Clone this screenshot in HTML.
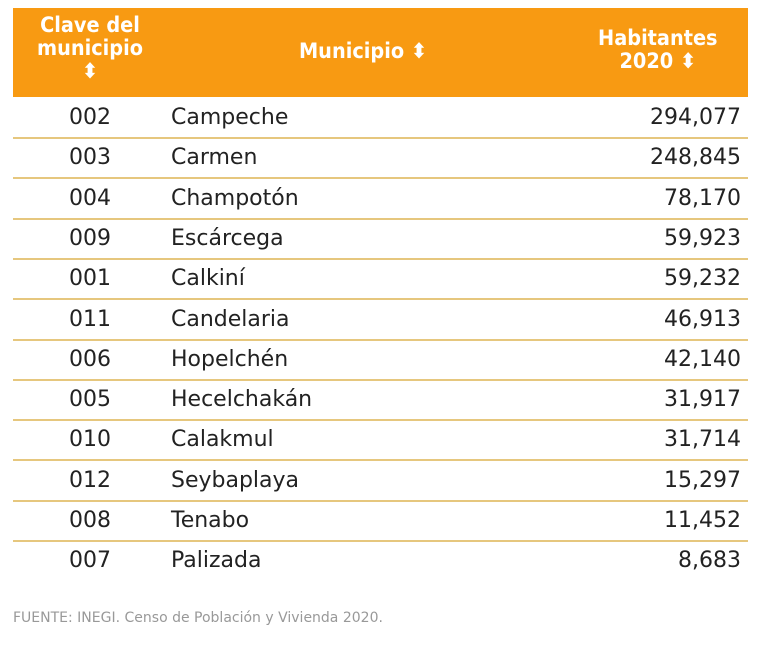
<!DOCTYPE html>
<html><head><meta charset="utf-8"><style>
body{margin:0;width:768px;height:647px;background:#fff;position:relative;overflow:hidden;font-family:"DejaVu Sans",Verdana,sans-serif;}
#hdr{position:absolute;left:13px;top:8px;width:735px;height:89px;background:#F89A12;}
.h{position:absolute;color:#fff;font-family:"DejaVu Sans",sans-serif;font-weight:bold;font-size:21px;line-height:23px;transform:scaleX(0.92);}
.row{position:absolute;left:13px;width:735px;height:40px;border-bottom:2px solid #E6C77E;color:#222;font-size:22px;}
.row span{position:absolute;top:8px;}
.c{left:52px;width:50px;text-align:center;}
.n{left:158px;}
.v{right:7px;}
#foot{position:absolute;left:13px;top:610px;font-size:14px;color:#999;}
</style></head><body>
<div id="hdr">
 <div class="h" style="left:8px;top:6px;width:150px;text-align:center;transform-origin:left">Clave del<br>municipio<br>⬍</div>
 <div class="h" style="left:250px;top:32px;width:200px;text-align:center">Municipio ⬍</div>
 <div class="h" style="right:12px;top:19px;width:170px;text-align:center;transform-origin:right">Habitantes<br>2020 ⬍</div>
</div>
<div id="rows"></div>
<div id="foot">FUENTE: INEGI. Censo de Población y Vivienda 2020.</div>
<script>
const codes=["002","003","004","009","001","011","006","005","010","012","008","007"];
const names=["Campeche","Carmen","Champotón","Escárcega","Calkiní","Candelaria","Hopelchén","Hecelchakán","Calakmul","Seybaplaya","Tenabo","Palizada"];
const values=[294077,248845,78170,59923,59232,46913,42140,31917,31714,15297,11452,8683];
const wrap=document.getElementById('rows');
codes.forEach((c,i)=>{
 const r=document.createElement('div');
 r.className='row';
 
 
 r.style.top=(97+i*40.3)+'px';
 if(i==codes.length-1)r.style.borderBottom='none';
 r.innerHTML='<span class="c">'+c+'</span><span class="n">'+names[i]+'</span><span class="v">'+values[i].toLocaleString('en-US')+'</span>';
 wrap.appendChild(r);
});
</script>
</body></html>
